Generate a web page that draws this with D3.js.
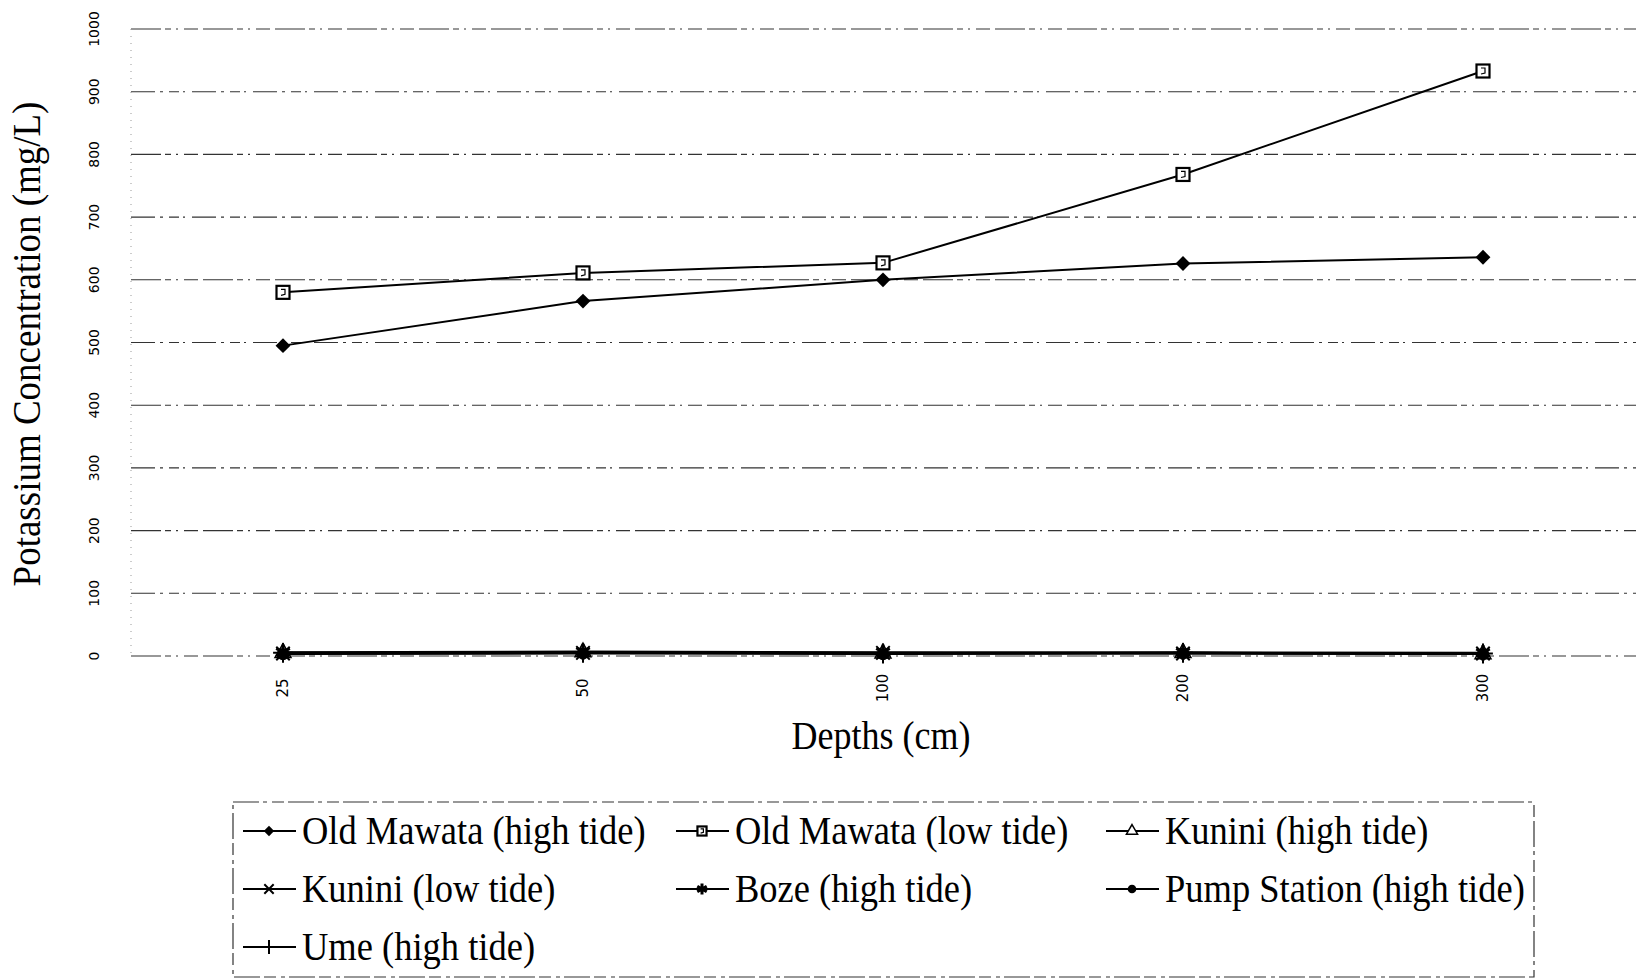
<!DOCTYPE html>
<html>
<head>
<meta charset="utf-8">
<script src="https://cdn.jsdelivr.net/npm/d3@7"></script>
<style>
  body { margin: 0; background: #fff; }
  svg { display: block; }
</style>
</head>
<body>
<div id="chart"></div>
<script>
// depths along the x axis
var depths = ["25", "50", "100", "200", "300"];
var yTicks = [0, 100, 200, 300, 400, 500, 600, 700, 800, 900, 1000];

// potassium concentration (mg/L), one array per site / tide
var oldMawataHigh = [495, 566, 600, 626, 636];
var oldMawataLow  = [580, 611, 627, 768, 933];
var kuniniHigh    = [5, 6, 4, 5, 3];
var kuniniLow     = [4, 5, 5, 4, 4];
var bozeHigh      = [6, 7, 6, 6, 5];
var pumpHigh      = [3, 4, 3, 4, 3];
var umeHigh       = [5, 5, 4, 5, 4];

var seriesNames = ["Old Mawata (high tide)", "Old Mawata (low tide)", "Kunini (high tide)",
                   "Kunini (low tide)", "Boze (high tide)", "Pump Station (high tide)", "Ume (high tide)"];
var seriesValues = [oldMawataHigh, oldMawataLow, kuniniHigh, kuniniLow, bozeHigh, pumpHigh, umeHigh];
var seriesMarks = ["diamond", "square", "triangle", "x", "asterisk", "circle", "plus"];

var series = seriesNames.map(function(name, i) {
  return {name: name, mark: seriesMarks[i], values: seriesValues[i]};
});

var W = 1644, H = 979;
var svg = d3.select("#chart").append("svg")
    .attr("width", W)
    .attr("height", H);

var plot = {left: 133, right: 1633, top: 29, bottom: 656};

var x = d3.scaleBand().domain(depths).range([plot.left, plot.right]);
var y = d3.scaleLinear().domain([0, 1000]).range([plot.bottom, plot.top]);

var serif = "'Liberation Serif', 'Times New Roman', serif";

// gridlines (scanned look: broken dashes)
svg.append("g")
    .selectAll("line")
    .data(yTicks)
    .enter().append("line")
    .attr("x1", 131)
    .attr("x2", 1636)
    .attr("y1", d => y(d))
    .attr("y2", d => y(d))
    .attr("stroke", "#333")
    .attr("stroke-width", 1.1)
    .attr("stroke-dasharray", (d, i) => i % 2 ? "24,5,3,6,10,4,2,7" : "30,4,6,5,2,6,14,5");

// left axis line (faint dotted)
svg.append("line")
    .attr("x1", 131).attr("x2", 131)
    .attr("y1", y(1000)).attr("y2", y(0))
    .attr("stroke", "#999")
    .attr("stroke-width", 1)
    .attr("stroke-dasharray", "1,6");

// y tick labels, rotated
svg.append("g")
    .selectAll("text")
    .data(yTicks)
    .enter().append("text")
    .attr("transform", d => "translate(94," + y(d) + ") rotate(-90)")
    .attr("text-anchor", "middle")
    .attr("dy", "0.35em")
    .style("font-family", "'DejaVu Sans', sans-serif")
    .style("font-size", "14px")
    .text(d => d);

// x tick labels, rotated
svg.append("g")
    .selectAll("text")
    .data(depths)
    .enter().append("text")
    .attr("transform", d => "translate(" + (x(d) + x.bandwidth() / 2) + ",688) rotate(-90)")
    .attr("text-anchor", "middle")
    .attr("dy", "0.35em")
    .style("font-family", "'DejaVu Sans', sans-serif")
    .style("font-size", "15px")
    .text(d => d);

// axis titles
svg.append("text")
    .attr("transform", "translate(40,344) rotate(-90) scale(1,1.1)")
    .attr("text-anchor", "middle")
    .style("font-family", serif)
    .style("font-size", "37px")
    .text("Potassium Concentration (mg/L)");

svg.append("text")
    .attr("transform", "translate(881,749) scale(1,1.1)")
    .attr("text-anchor", "middle")
    .style("font-family", serif)
    .style("font-size", "36px")
    .text("Depths (cm)");

// marker drawing helper
function drawMark(g, mark, big) {
  var s = big ? 1 : 0.7;
  if (mark === "diamond") {
    g.append("path").attr("d", d3.symbol().type(d3.symbolSquare).size(110 * s * s)())
      .attr("transform", "rotate(45)").attr("fill", "#000");
  } else if (mark === "square") {
    var r = 6.5 * s;
    g.append("rect").attr("x", -r).attr("y", -r).attr("width", 2 * r).attr("height", 2 * r)
      .attr("fill", "#fff").attr("stroke", "#000").attr("stroke-width", 2.2);
    g.append("path").attr("d", "M" + (-2 * s) + "," + (-3 * s) + "L" + (2 * s) + "," + (-3 * s) +
        "L" + (2 * s) + "," + (2 * s) + "L" + (-2 * s) + "," + (3 * s))
      .attr("fill", "none").attr("stroke", "#000").attr("stroke-width", 1.2);
  } else if (mark === "triangle") {
    g.append("path").attr("d", d3.symbol().type(d3.symbolTriangle).size(110 * s * s)())
      .attr("fill", "#fff").attr("stroke", "#000").attr("stroke-width", 1.5);
  } else if (mark === "x") {
    g.append("path").attr("d", d3.symbol().type(d3.symbolX).size(120 * s * s)())
      .attr("fill", "none").attr("stroke", "#000").attr("stroke-width", 2);
  } else if (mark === "asterisk") {
    g.append("path").attr("d", d3.symbol().type(d3.symbolAsterisk).size(170 * s * s)())
      .attr("fill", "none").attr("stroke", "#000").attr("stroke-width", 3);
  } else if (mark === "circle") {
    g.append("path").attr("d", d3.symbol().type(d3.symbolCircle).size(120 * s * s)())
      .attr("fill", "#000");
  } else if (mark === "plus") {
    g.append("path").attr("d", d3.symbol().type(d3.symbolPlus).size(130 * s * s)())
      .attr("fill", "none").attr("stroke", "#000").attr("stroke-width", 2);
  }
}

var cx = d => x(d) + x.bandwidth() / 2;

var line = d3.line()
    .x((d, i) => cx(depths[i]))
    .y(d => y(d));

// series lines (draw near-zero ones first)
var order = series.slice(2).concat(series.slice(0, 2));

svg.append("g")
    .selectAll("path")
    .data(order)
    .enter().append("path")
    .attr("d", d => line(d.values))
    .attr("fill", "none")
    .attr("stroke", "#000")
    .attr("stroke-width", 2);

order.forEach(function(s) {
  s.values.forEach(function(v, i) {
    var g = svg.append("g")
        .attr("transform", "translate(" + cx(depths[i]) + "," + y(v) + ")");
    drawMark(g, s.mark, true);
  });
});

// legend
var legend = svg.append("g");
legend.append("rect")
    .attr("x", 233).attr("y", 802)
    .attr("width", 1301).attr("height", 175)
    .attr("fill", "none")
    .attr("stroke", "#333")
    .attr("stroke-width", 1.2)
    .attr("stroke-dasharray", "26,4,4,5,12,4");

var colX = [243, 676, 1106];
var rowY = [831, 889, 947];

series.forEach(function(s, i) {
  var lx = colX[i % 3], ly = rowY[Math.floor(i / 3)];
  var g = legend.append("g").attr("transform", "translate(" + lx + "," + ly + ")");
  g.append("line").attr("x1", 0).attr("x2", 53).attr("y1", 0).attr("y2", 0)
    .attr("stroke", "#000").attr("stroke-width", 2);
  drawMark(g.append("g").attr("transform", "translate(26,0)"), s.mark, false);
  g.append("text")
    .attr("x", 59)
    .attr("y", 12)
    .attr("transform", "scale(1,1.1)")
    .style("font-family", serif)
    .style("font-size", "36.5px")
    .text(s.name);
});
</script>
</body>
</html>
